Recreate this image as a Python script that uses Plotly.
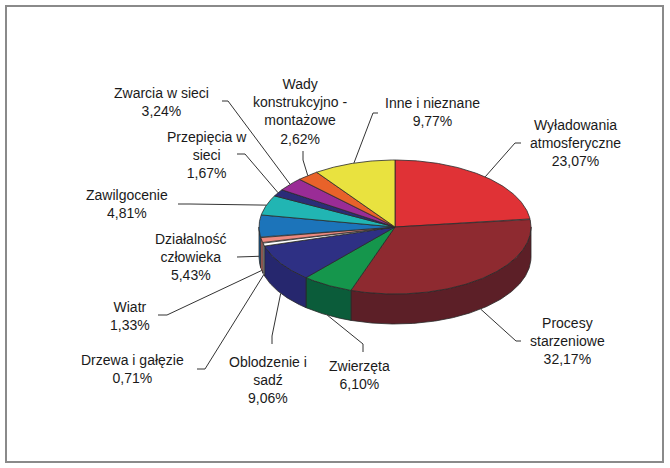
import numpy as np
import plotly.graph_objects as go

# Przyczyny awarii - udzial procentowy
nazwy = ["Wyładowania<br>atmosferyczne", "Procesy<br>starzeniowe", "Zwierzęta",
         "Oblodzenie i<br>sadź", "Drzewa i gałęzie", "Wiatr", "Działalność<br>człowieka",
         "Zawilgocenie", "Przepięcia w<br>sieci", "Zwarcia w sieci",
         "Wady<br>konstrukcyjno -<br>montażowe", "Inne i nieznane"]
wartosci = [23.07, 32.17, 6.10, 9.06, 0.71, 1.33, 5.43, 4.81, 1.67, 3.24, 2.62, 9.77]

kolory = ["#E03236", "#8E2A30", "#15964C", "#2E3084", "#FFFFFF", "#EE8A80",
          "#1C74BA", "#21B5B3", "#2B2D78", "#9A2C96", "#E8622A", "#E9E23F"]
kolory_boku = ["#9C2226", "#5C1F27", "#0B5C3A", "#26276E", "#DDDDDD", "#C96F66",
               "#155C95", "#178B89", "#20225C", "#741F70", "#B54A1F", "#B5AF2E"]

# polozenie etykiet i linii odniesienia (piksele)
etyk_x = [575, 567, 359, 268, 132, 130, 191, 127, 207, 161, 300, 432]
etyk_y = [143, 341, 374.5, 379.5, 369, 316, 257, 204, 155, 102, 111, 112]
linia_start = [(521, 143), (521, 341), (363, 352), (272, 344), (197, 369), (158, 315),
               (237, 257), (178, 204), (237, 154), (222, 101), (303, 151), (378, 113)]
linia_zalom = [(515, 143), (516, 341), (363, 344), (272, 336), (205, 369), (167, 315),
               (244, 257), (190, 204), (245, 154), (228, 101), (303, 160), (373, 113)]

cx, cy, rx, ry, h = 395, 227, 136, 67, 30
obrys = "#2a2a2a"


def elipsa(th):
    t = np.radians(th)
    return cx + rx * np.sin(t), cy - ry * np.cos(t)


fig = go.Figure()

suma = sum(wartosci)
granice = []
kat = 0.0
for v in wartosci:
    granice.append((kat, kat + v / suma * 360))
    kat += v / suma * 360

''' boki tortu '''
for (a0, a1), kb in zip(granice, kolory_boku):
    s0, s1 = max(a0, 90), min(a1, 270)
    if s1 <= s0:
        continue
    th = np.linspace(s0, s1, max(4, int((s1 - s0) * 2)))
    xs, ys = elipsa(th)
    px_ = np.concatenate([xs, xs[::-1], xs[:1]])
    py_ = np.concatenate([ys, ys[::-1] + h, ys[:1]])
    fig.add_trace(go.Scatter(x=px_, y=py_, fill='toself', fillcolor=kb, mode='lines',
                             line=dict(color=obrys, width=0.8), hoverinfo='skip', showlegend=False))

''' wierzch tortu '''
for (a0, a1), k in zip(granice, kolory):
    th = np.linspace(a0, a1, max(4, int((a1 - a0) * 2)))
    xs, ys = elipsa(th)
    px_ = np.concatenate([[cx], xs, [cx]])
    py_ = np.concatenate([[cy], ys, [cy]])
    fig.add_trace(go.Scatter(x=px_, y=py_, fill='toself', fillcolor=k, mode='lines',
                             line=dict(color=obrys, width=0.8), hoverinfo='skip', showlegend=False))

''' linie odniesienia i etykiety '''
for i, (a0, a1) in enumerate(granice):
    sr = (a0 + a1) / 2
    ex, ey = elipsa(sr)
    if np.cos(np.radians(sr)) < 0.1:
        ey = ey + h
    fig.add_trace(go.Scatter(x=[linia_start[i][0], linia_zalom[i][0], ex],
                             y=[linia_start[i][1], linia_zalom[i][1], ey],
                             mode='lines', line=dict(color='#333333', width=1),
                             hoverinfo='skip', showlegend=False))
    tekst = nazwy[i] + "<br>" + f"{wartosci[i]:.2f}".replace('.', ',') + "%"
    fig.add_annotation(x=etyk_x[i], y=etyk_y[i], text=tekst, showarrow=False,
                       font=dict(family="Liberation Sans, Arial", size=14, color="#1a1a1a"),
                       align='center')

fig.add_shape(type='rect', x0=6, y0=6, x1=663, y1=462, xref='x', yref='y',
              line=dict(color='#8a8a8a', width=2))

fig.update_layout(
    width=670, height=468,
    margin=dict(l=0, r=0, t=0, b=0),
    paper_bgcolor='white', plot_bgcolor='white',
    xaxis=dict(range=[0, 670], visible=False, fixedrange=True),
    yaxis=dict(range=[468, 0], visible=False, fixedrange=True),
    showlegend=False,
)
fig.write_html("out.html", config={'displayModeBar': False},
               post_script="document.body.style.margin='0px';document.body.style.overflow='hidden';")
